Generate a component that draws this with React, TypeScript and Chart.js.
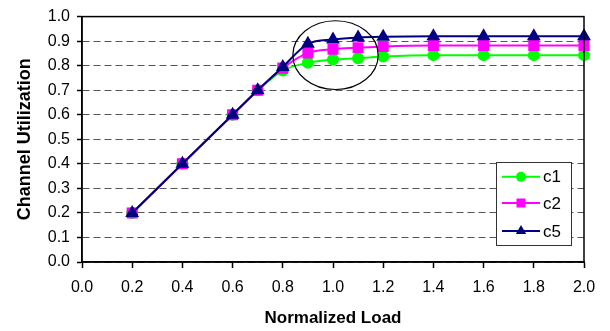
import React, { useEffect, useRef } from "react";
import { Chart, registerables } from "chart.js";

Chart.register(...registerables);

const LOADS = [0.2, 0.4, 0.6, 0.7, 0.8, 0.9, 1.0, 1.1, 1.2, 1.4, 1.6, 1.8, 2.0];
const C1 = [0.2, 0.4, 0.6, 0.7, 0.78, 0.812, 0.825, 0.83, 0.837, 0.843, 0.843, 0.843, 0.843];
const C2 = [0.2, 0.4, 0.6, 0.7, 0.79, 0.852, 0.867, 0.873, 0.878, 0.882, 0.882, 0.882, 0.882];
const C5 = [0.2, 0.4, 0.6, 0.7, 0.795, 0.889, 0.907, 0.915, 0.918, 0.92, 0.92, 0.92, 0.92];
const SERIES_NAMES = ["c1", "c2", "c5"];
const X_TITLE = "Normalized Load";
const Y_TITLE = "Channel Utilization";
// highlight ellipse in data units: centre x, centre y, half-width, half-height
const ELLIPSE = { cx: 1.01, cy: 0.843, rx: 0.17, ry: 0.14 };

const FONT = "'Liberation Sans', Arial, sans-serif";

const boxPlugin = {
  id: "boxAndExtras",
  afterDraw(chart: any) {
    const { ctx, chartArea: a, scales } = chart;
    ctx.save();
    // frame
    ctx.strokeStyle = "#000";
    ctx.lineWidth = 1.5;
    ctx.strokeRect(a.left, a.top, a.right - a.left, a.bottom - a.top);
    // ellipse
    const x = scales.x, y = scales.y;
    const cx = x.getPixelForValue(ELLIPSE.cx);
    const cy = y.getPixelForValue(ELLIPSE.cy);
    const rx = Math.abs(x.getPixelForValue(ELLIPSE.cx + ELLIPSE.rx) - cx);
    const ry = Math.abs(y.getPixelForValue(ELLIPSE.cy + ELLIPSE.ry) - cy);
    ctx.beginPath();
    ctx.ellipse(cx, cy, rx, ry, 0, 0, Math.PI * 2);
    ctx.lineWidth = 1.2;
    ctx.strokeStyle = "#000";
    ctx.stroke();
    // legend
    const bw = 75, bh = 83;
    const bx = a.right - 13 - bw;
    const by = a.bottom - 17 - bh;
    ctx.fillStyle = "#fff";
    ctx.fillRect(bx, by, bw, bh);
    ctx.lineWidth = 1;
    ctx.strokeStyle = "#333";
    ctx.strokeRect(bx + 0.5, by + 0.5, bw, bh);
    const rows = [14.7, 41, 69];
    chart.data.datasets.forEach((ds: any, i: number) => {
      const ry2 = by + rows[i];
      ctx.strokeStyle = ds.borderColor;
      ctx.lineWidth = 2;
      ctx.beginPath();
      ctx.moveTo(bx + 6, ry2);
      ctx.lineTo(bx + 44, ry2);
      ctx.stroke();
      const mx = bx + 25;
      ctx.fillStyle = ds.backgroundColor;
      ctx.beginPath();
      if (ds.pointStyle === "circle") {
        ctx.arc(mx, ry2, 5, 0, Math.PI * 2);
      } else if (ds.pointStyle === "rect") {
        ctx.rect(mx - 4.5, ry2 - 4.5, 9, 9);
      } else {
        ctx.moveTo(mx, ry2 - 6);
        ctx.lineTo(mx + 5.2, ry2 + 3);
        ctx.lineTo(mx - 5.2, ry2 + 3);
        ctx.closePath();
      }
      ctx.fill();
      ctx.fillStyle = "#000";
      ctx.font = `17px ${FONT}`;
      ctx.textBaseline = "middle";
      ctx.textAlign = "left";
      ctx.fillText(ds.label, bx + 47, ry2 + 1);
    });
    ctx.restore();
  },
};

export default function App() {
  const ref = useRef<HTMLCanvasElement>(null);
  useEffect(() => {
    const mk = (vals: number[]) => LOADS.map((x, i) => ({ x, y: vals[i] }));
    const chart = new Chart(ref.current!, {
      type: "line",
      data: {
        datasets: [
          {
            label: SERIES_NAMES[0], data: mk(C1), borderColor: "#00ff00", backgroundColor: "#00ff00",
            pointStyle: "circle", pointRadius: 5, borderWidth: 2, order: 2, clip: false as any,
            cubicInterpolationMode: "monotone",
          },
          {
            label: SERIES_NAMES[1], data: mk(C2), borderColor: "#ff00ff", backgroundColor: "#ff00ff",
            pointStyle: "rect", pointRadius: 6.4, borderWidth: 2, order: 1, clip: false as any,
            cubicInterpolationMode: "monotone",
          },
          {
            label: SERIES_NAMES[2], data: mk(C5), borderColor: "#000080", backgroundColor: "#000080",
            pointStyle: "triangle", pointRadius: 6, borderWidth: 2, order: 0, clip: false as any,
            cubicInterpolationMode: "monotone",
          },
        ],
      },
      options: {
        responsive: false,
        animation: false,
        layout: { padding: { top: 16, right: 26, left: 0, bottom: 0 } },
        plugins: { legend: { display: false }, tooltip: { enabled: false } },
        font: { family: FONT } as any,
        scales: {
          x: {
            type: "linear",
            min: 0,
            max: 2,
            afterFit: (s: any) => { s.height = 69; },
            ticks: {
              stepSize: 0.2,
              color: "#000",
              padding: 9.5,
              maxRotation: 0,
              autoSkip: false,
              font: { family: FONT, size: 16 },
              callback: (v: any) => Number(v).toFixed(1),
            },
            grid: { drawOnChartArea: false, drawTicks: true, tickLength: 6, tickColor: "#000", tickWidth: 1.5 },
            border: { color: "#000", width: 1.5 },
            title: {
              display: true, text: X_TITLE, color: "#000",
              font: { family: FONT, size: 17, weight: "bold" }, padding: { top: 0, bottom: 2 },
            },
          },
          y: {
            min: 0,
            max: 1,
            afterFit: (s: any) => { s.width = 82; },
            ticks: {
              stepSize: 0.1,
              color: "#000",
              padding: 7,
              font: { family: FONT, size: 16 },
              callback: (v: any) => Number(v).toFixed(1),
            },
            grid: { color: "#555", lineWidth: 1, tickLength: 5, tickColor: "#000", tickWidth: 1.5, tickBorderDash: [] } as any,
            border: { color: "#000", width: 1.5, dash: [7, 4] },
            title: {
              display: true, text: Y_TITLE, color: "#000",
              font: { family: FONT, size: 18, weight: "bold" }, padding: { top: 14, bottom: 0 },
            },
          },
        },
      },
      plugins: [boxPlugin],
    });
    return () => chart.destroy();
  }, []);
  return (
    <div style={{ position: "fixed", left: 0, top: 0, width: 610, height: 331, background: "#fff" }}>
      <canvas ref={ref} width={610} height={331} />
    </div>
  );
}
